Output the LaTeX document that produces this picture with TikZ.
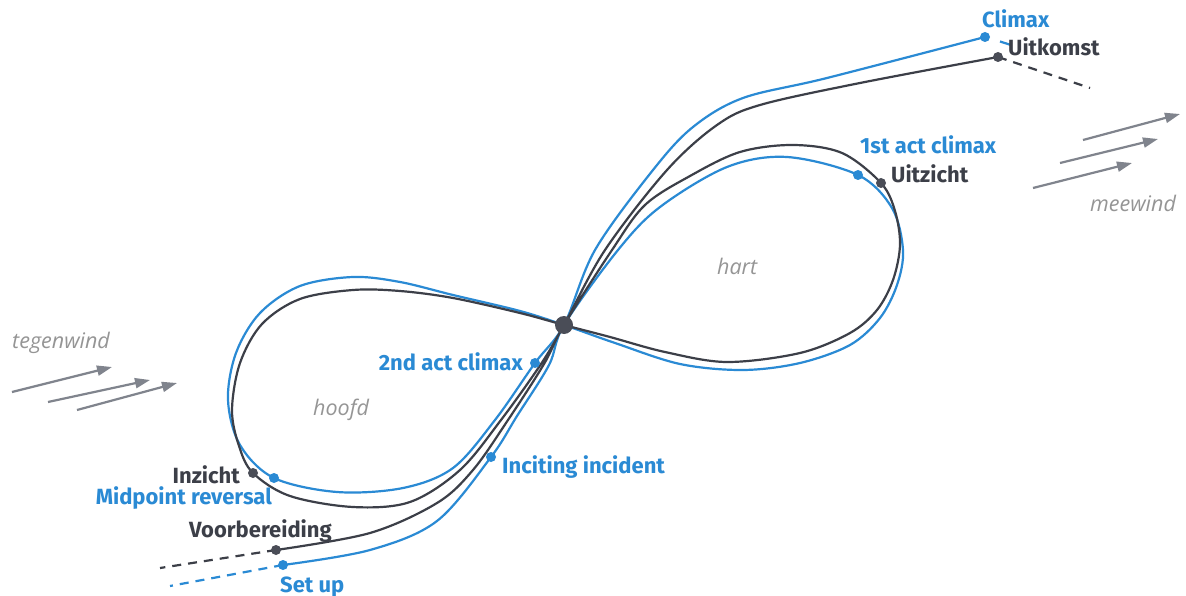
\documentclass[tikz,border=0pt]{standalone}
\usepackage{fontspec}
\setmainfont{Fira Sans}
\newfontfamily\tagfont{Fira Sans}
\newfontfamily\zonefont{Open Sans}
\usetikzlibrary{arrows.meta}

\definecolor{arcblue}{HTML}{2A8AD4}
\definecolor{arcdark}{HTML}{3C3F48}
\definecolor{hubgray}{HTML}{4A4D57}
\definecolor{windgray}{HTML}{80848D}
\definecolor{zonegray}{HTML}{959595}

\tikzset{
  blueline/.style={draw=arcblue, line width=2.2pt, line cap=round, line join=round},
  darkline/.style={draw=arcdark, line width=2.2pt, line cap=round, line join=round},
  bluetail/.style={draw=arcblue, line width=2.2pt, dash pattern=on 9pt off 7pt},
  darktail/.style={draw=arcdark, line width=2.2pt, dash pattern=on 9pt off 7pt},
  bluedot/.style={circle, fill=arcblue, inner sep=0pt, minimum size=10pt},
  darkdot/.style={circle, fill=hubgray, inner sep=0pt, minimum size=10pt},
  hubdot/.style={circle, fill=hubgray, inner sep=0pt, minimum size=18pt},
  bluetext/.style={text=arcblue, inner sep=0pt, font=\tagfont\bfseries\fontsize{22}{24}\selectfont},
  darktext/.style={text=arcdark, inner sep=0pt, font=\tagfont\bfseries\fontsize{22}{24}\selectfont},
  zonetext/.style={text=zonegray, inner sep=0pt, font=\zonefont\itshape\fontsize{21.5}{23}\selectfont},
  wind/.style={draw=windgray, line width=2.2pt, -{Triangle[length=15pt,width=10pt]}, fill=windgray},
}

\begin{document}
\begin{tikzpicture}[x=1pt, y=-1pt]
  \path[fill=white] (0,0) rectangle (1186,596);
  \useasboundingbox (0,0) rectangle (1186,596);

  % crossing point and story beats
  \coordinate (hub) at (564,325);
  \coordinate (setup) at (283,565);
  \coordinate (inciting) at (491,457);
  \coordinate (firstact) at (858,175);
  \coordinate (midpoint) at (274,478);
  \coordinate (secondact) at (535,363);
  \coordinate (climax) at (985,37);
  \coordinate (voorb) at (276,550);
  \coordinate (uitzicht) at (881,183);
  \coordinate (inzicht) at (253,473);
  \coordinate (uitkomst) at (998,57);

  % loose ends
  \coordinate (setuptail) at (170,586);
  \coordinate (voorbtail) at (160,568);
  \coordinate (climaxdash) at (1000,41.5);
  \coordinate (climaxtail) at (1011,45);
  \coordinate (uitkomsttail) at (1090,88);

  % blue story line
  \draw[blueline] plot[smooth, tension=0.55] coordinates {
    (setup) (370,550) (437,521) (inciting) (517,416) (549,365) (hub)
    (618,250) (660,207) (727,167) (787,157) (firstact) (892,208) (903,250)
    (897,285) (880,318) (850,345) (800,363) (743,370) (680,364) (615,343) (hub)
    (520,311) (453,295) (400,282) (353,277) (300,286) (260,313) (236,353)
    (228,400) (240,445) (midpoint) (337,492) (403,488) (453,468) (495,420)
    (secondact) (hub) (595,250) (653,170) (693,127) (743,98) (827,78) (climax)};

  % dark line
  \draw[darkline] plot[smooth, tension=0.55] coordinates {
    (voorb) (370,533) (437,503) (473,470) (508,420) (544,364) (hub)
    (612,250) (645,205) (690,176) (740,152) (793,145) (842,153) (uitzicht)
    (895,211) (900,245) (893,280) (877,310) (850,333) (800,353) (727,362)
    (665,352) (610,337) (hub)
    (520,313) (453,298) (400,291) (353,290) (300,299) (262,324) (240,363)
    (232,410) (239,446) (inzicht) (290,496) (353,507) (410,502) (460,470)
    (501,420) (541,364) (hub) (605,250) (667,170) (717,125) (760,105)
    (860,83) (uitkomst)};

  % dashed continuations
  \draw[bluetail] (setup) -- (setuptail);
  \draw[darktail] (voorb) -- (voorbtail);
  \draw[darktail] (uitkomst) -- (uitkomsttail);
  \draw[draw=arcblue, line width=2.2pt] (climaxdash) -- (climaxtail);

  % dots
  \node[hubdot] (hubdot) at (hub) {};
  \node[bluedot] (setupdot) at (setup) {};
  \node[bluedot] (incitingdot) at (inciting) {};
  \node[bluedot] (firstactdot) at (firstact) {};
  \node[bluedot] (midpointdot) at (midpoint) {};
  \node[bluedot] (secondactdot) at (secondact) {};
  \node[bluedot] (climaxdot) at (climax) {};
  \node[darkdot] (voorbdot) at (voorb) {};
  \node[darkdot] (uitzichtdot) at (uitzicht) {};
  \node[darkdot] (inzichtdot) at (inzicht) {};
  \node[darkdot] (uitkomstdot) at (uitkomst) {};

  % beat labels
  \node[bluetext, anchor=base west] (lclimax) at (982,28) {Climax};
  \node[darktext, anchor=base west] (luitkomst) at (1008,56) {Uitkomst};
  \node[bluetext, anchor=base west] (lfirst) at (860,154) {1st act climax};
  \node[darktext, anchor=base west] (luitzicht) at (891,183) {Uitzicht};
  \node[bluetext, anchor=base east] (lsecond) at (523,370) {2nd act climax};
  \node[bluetext, anchor=base west] (linciting) at (502,473) {Inciting incident};
  \node[darktext, anchor=base east] (linzicht) at (240,483) {Inzicht};
  \node[bluetext, anchor=base east] (lmidpoint) at (272,504) {Midpoint reversal};
  \node[darktext, anchor=base west] (lvoorb) at (189,537) {Voorbereiding};
  \node[bluetext, anchor=base west] (lsetup) at (280,592) {Set up};

  % zone labels
  \node[zonetext, anchor=base west] (lhart) at (717,274) {hart};
  \node[zonetext, anchor=base west] (lhoofd) at (313,415) {hoofd};
  \node[zonetext, anchor=base west] (ltegen) at (12,348) {tegenwind};
  \node[zonetext, anchor=base west] (lmee) at (1090,212) {meewind};

  % wind arrows
  \coordinate (tw1s) at (12,392);  \coordinate (tw1e) at (112,367);
  \coordinate (tw2s) at (48,402);  \coordinate (tw2e) at (150,380);
  \coordinate (tw3s) at (77,410);  \coordinate (tw3e) at (177,383);
  \coordinate (mw1s) at (1083,140); \coordinate (mw1e) at (1180,114);
  \coordinate (mw2s) at (1060,163); \coordinate (mw2e) at (1158,139);
  \coordinate (mw3s) at (1033,188); \coordinate (mw3e) at (1132,163);
  \draw[wind] (tw1s) -- (tw1e);
  \draw[wind] (tw2s) -- (tw2e);
  \draw[wind] (tw3s) -- (tw3e);
  \draw[wind] (mw1s) -- (mw1e);
  \draw[wind] (mw2s) -- (mw2e);
  \draw[wind] (mw3s) -- (mw3e);
\end{tikzpicture}
\end{document}
